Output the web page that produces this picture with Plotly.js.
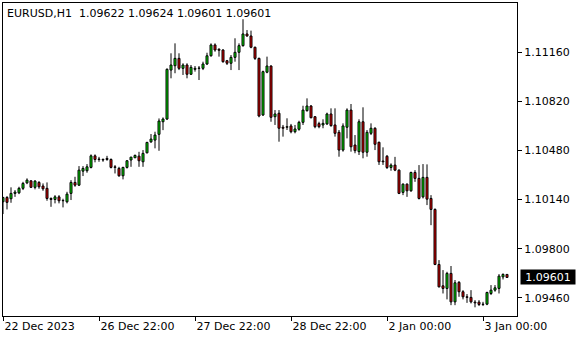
<!DOCTYPE html>
<html>
<head>
<meta charset="utf-8">
<script src="https://cdn.plot.ly/plotly-3.0.1.min.js"></script>
<style>
html,body{margin:0;padding:0;background:#fff;}
#chart{width:580px;height:340px;}
</style>
</head>
<body>
<div id="chart"></div>
<script>
// EURUSD H1 candles, bar index 0..126
const openP = [1.10125,1.10155,1.10146,1.10183,1.10187,1.10218,1.10256,1.10270,1.10225,1.10259,
1.10234,1.10218,1.10148,1.10141,1.10159,1.10132,1.10125,1.10183,1.10259,1.10240,
1.10337,1.10340,1.10363,1.10443,1.10421,1.10418,1.10425,1.10418,1.10367,1.10356,
1.10305,1.10363,1.10414,1.10430,1.10441,1.10402,1.10464,1.10540,1.10552,1.10592,
1.10679,1.10698,1.11037,1.11067,1.11118,1.11049,1.11072,1.11008,1.11042,1.11049,
1.11049,1.11079,1.11136,1.11211,1.11181,1.11176,1.11102,1.11084,1.11125,1.11160,
1.11206,1.11287,1.11273,1.11195,1.11118,1.10726,1.11022,1.11065,1.10714,1.10738,
1.10641,1.10641,1.10650,1.10610,1.10627,1.10675,1.10756,1.10788,1.10714,1.10666,
1.10657,1.10664,1.10733,1.10657,1.10606,1.10483,1.10641,1.10760,1.10518,1.10472,
1.10679,1.10468,1.10599,1.10634,1.10537,1.10407,1.10440,1.10363,1.10379,1.10344,
1.10190,1.10247,1.10201,1.10328,1.10287,1.10159,1.10294,1.10148,1.10072,1.09691,
1.09543,1.09525,1.09629,1.09432,1.09567,1.09502,1.09467,1.09463,1.09430,1.09430,
1.09414,1.09416,1.09490,1.09513,1.09525,1.09605,1.09622];
const highP = [1.10159,1.10164,1.10225,1.10206,1.10229,1.10263,1.10287,1.10273,1.10275,1.10268,
1.10252,1.10259,1.10155,1.10171,1.10171,1.10146,1.10194,1.10275,1.10298,1.10372,
1.10372,1.10386,1.10453,1.10453,1.10436,1.10425,1.10443,1.10425,1.10379,1.10367,
1.10367,1.10414,1.10436,1.10452,1.10471,1.10483,1.10540,1.10594,1.10610,1.10702,
1.10709,1.11049,1.11153,1.11222,1.11153,1.11084,1.11084,1.11072,1.11065,1.11065,
1.11095,1.11157,1.11222,1.11222,1.11188,1.11181,1.11107,1.11141,1.11257,1.11222,
1.11389,1.11314,1.11310,1.11199,1.11123,1.11033,1.11130,1.11070,1.10760,1.10760,
1.10657,1.10703,1.10664,1.10657,1.10686,1.10790,1.10841,1.10795,1.10719,1.10679,
1.10696,1.10742,1.10772,1.10772,1.10622,1.10668,1.10772,1.10802,1.10587,1.10696,
1.10779,1.10622,1.10668,1.10641,1.10541,1.10502,1.10449,1.10391,1.10436,1.10349,
1.10252,1.10252,1.10333,1.10344,1.10379,1.10386,1.10384,1.10171,1.10079,1.09721,
1.09652,1.09640,1.09680,1.09583,1.09576,1.09513,1.09486,1.09513,1.09444,1.09444,
1.09432,1.09502,1.09548,1.09548,1.09624,1.09629,1.09624];
const lowP = [1.10040,1.10072,1.10118,1.10159,1.10178,1.10206,1.10247,1.10220,1.10211,1.10215,
1.10201,1.10132,1.10090,1.10114,1.10114,1.10086,1.10114,1.10137,1.10229,1.10234,
1.10303,1.10326,1.10356,1.10398,1.10402,1.10402,1.10409,1.10356,1.10321,1.10298,
1.10280,1.10355,1.10367,1.10427,1.10367,1.10367,1.10460,1.10533,1.10495,1.10478,
1.10621,1.10691,1.10980,1.11015,1.11037,1.11003,1.10980,1.11003,1.11026,1.10968,
1.11037,1.11072,1.11130,1.11164,1.11130,1.11088,1.11072,1.11037,1.11095,1.11037,
1.11199,1.11268,1.11188,1.11107,1.10710,1.10719,1.11015,1.10679,1.10657,1.10541,
1.10576,1.10622,1.10599,1.10599,1.10617,1.10657,1.10749,1.10703,1.10634,1.10634,
1.10634,1.10657,1.10645,1.10576,1.10437,1.10472,1.10564,1.10472,1.10461,1.10449,
1.10426,1.10437,1.10587,1.10483,1.10380,1.10380,1.10352,1.10340,1.10337,1.10178,
1.10171,1.10159,1.10194,1.10263,1.10141,1.10148,1.10102,1.09963,1.09686,1.09532,
1.09490,1.09449,1.09409,1.09409,1.09467,1.09449,1.09425,1.09421,1.09394,1.09403,
1.09403,1.09409,1.09479,1.09502,1.09490,1.09587,1.09601];
const closeP = [1.10155,1.10121,1.10183,1.10192,1.10218,1.10252,1.10275,1.10225,1.10268,1.10229,
1.10215,1.10148,1.10141,1.10159,1.10132,1.10134,1.10178,1.10259,1.10240,1.10344,
1.10356,1.10367,1.10443,1.10418,1.10418,1.10414,1.10418,1.10363,1.10363,1.10305,
1.10363,1.10409,1.10434,1.10446,1.10409,1.10460,1.10536,1.10559,1.10587,1.10684,
1.10698,1.11042,1.11072,1.11118,1.11049,1.11072,1.11008,1.11056,1.11049,1.11051,
1.11079,1.11136,1.11211,1.11176,1.11174,1.11095,1.11084,1.11125,1.11160,1.11206,
1.11287,1.11273,1.11195,1.11118,1.10719,1.11026,1.11065,1.10710,1.10733,1.10634,
1.10634,1.10645,1.10610,1.10629,1.10675,1.10760,1.10788,1.10707,1.10645,1.10645,
1.10668,1.10733,1.10652,1.10599,1.10483,1.10650,1.10760,1.10506,1.10479,1.10679,
1.10468,1.10606,1.10634,1.10523,1.10402,1.10402,1.10362,1.10379,1.10344,1.10183,
1.10247,1.10201,1.10328,1.10287,1.10148,1.10294,1.10143,1.10072,1.09691,1.09536,
1.09525,1.09629,1.09432,1.09564,1.09502,1.09467,1.09463,1.09432,1.09425,1.09414,
1.09416,1.09497,1.09513,1.09529,1.09610,1.09622,1.09601];

const tickIdx = [0, 24, 48, 72, 96, 120];
const tickLabels = ["22 Dec 2023", "26 Dec 22:00", "27 Dec 22:00", "28 Dec 22:00", "2 Jan 00:00", "3 Jan 00:00"];
const priceTicks = [1.09460, 1.09800, 1.10140, 1.10480, 1.10820, 1.11160];
const symbolTitle = "EURUSD,H1  1.09622 1.09624 1.09601 1.09601";
const lastPrice = 1.09601;

const barIdx = openP.map((_, i) => i);
const FONT = "DejaVu Sans, Verdana, sans-serif";

const trace = {
  type: 'candlestick',
  x: barIdx, open: openP, high: highP, low: lowP, close: closeP,
  increasing: {line: {color: '#000000', width: 1}, fillcolor: '#00e600'},
  decreasing: {line: {color: '#000000', width: 1}, fillcolor: '#e60000'},
  whiskerwidth: 0,
  hoverinfo: 'skip',
  showlegend: false
};

const layout = {
  width: 580, height: 340,
  margin: {l: 3, r: 63, t: 3, b: 24, pad: 0},
  paper_bgcolor: '#ffffff', plot_bgcolor: '#ffffff',
  font: {family: FONT, size: 11, color: '#000000'},
  showlegend: false,
  boxgap: 0.5, boxgroupgap: 0,
  title: {
    text: symbolTitle,
    x: 7 / 580, xref: 'container', xanchor: 'left',
    y: 1 - 13 / 340, yref: 'container', yanchor: 'middle',
    font: {family: FONT, size: 11, color: '#000000'}
  },
  xaxis: {
    type: 'linear',
    range: [-0.125, 128.375],
    rangeslider: {visible: false},
    showgrid: false, zeroline: false,
    showline: true, linecolor: '#000000', linewidth: 1, mirror: true,
    ticks: 'outside', ticklen: 4, tickwidth: 1, tickcolor: '#000000',
    tickvals: tickIdx, ticktext: tickLabels,
    ticklabelposition: 'outside right',
    tickfont: {family: FONT, size: 11, color: '#000000'},
    fixedrange: true
  },
  yaxis: {
    side: 'right',
    range: [1.09334, 1.115014],
    showgrid: false, zeroline: false,
    showline: true, linecolor: '#000000', linewidth: 1, mirror: true,
    ticks: 'outside', ticklen: 4, tickwidth: 1, tickcolor: '#000000',
    tickvals: priceTicks, tickformat: '.5f',
    tickfont: {family: FONT, size: 11, color: '#000000'},
    fixedrange: true
  },
  annotations: [{
    xref: 'paper', x: 1, xanchor: 'left', xshift: 3,
    yref: 'y', y: lastPrice, yanchor: 'middle',
    text: lastPrice.toFixed(5), showarrow: false,
    bgcolor: '#000000', font: {family: FONT, size: 11, color: '#ffffff'},
    width: 52, height: 12, borderpad: 1, align: 'center'
  }]
};

Plotly.newPlot('chart', [trace], layout, {staticPlot: true, displayModeBar: false}).then(gd => {
  // align the candle layer to the pixel grid so the body fill stays visible
  const paths = gd.querySelectorAll('.boxlayer path.box');
  if (!paths.length) return;
  const xa = gd._fullLayout.xaxis;
  const ctm = paths[0].getScreenCTM();
  const rect = gd.getBoundingClientRect();
  const centerAbs = (ctm ? ctm.e : xa._offset) - rect.left + xa.l2p(0);
  const shift = Math.floor(centerAbs) - centerAbs;
  paths.forEach(p => {
    // drop the inner close-marker segment so the body shows a clean fill
    p.setAttribute('d', p.getAttribute('d').replace(/^M[^M]*/, ''));
    if (Math.abs(shift) > 1e-6) p.setAttribute('transform', 'translate(' + shift + ',0)');
  });
});
</script>
</body>
</html>
